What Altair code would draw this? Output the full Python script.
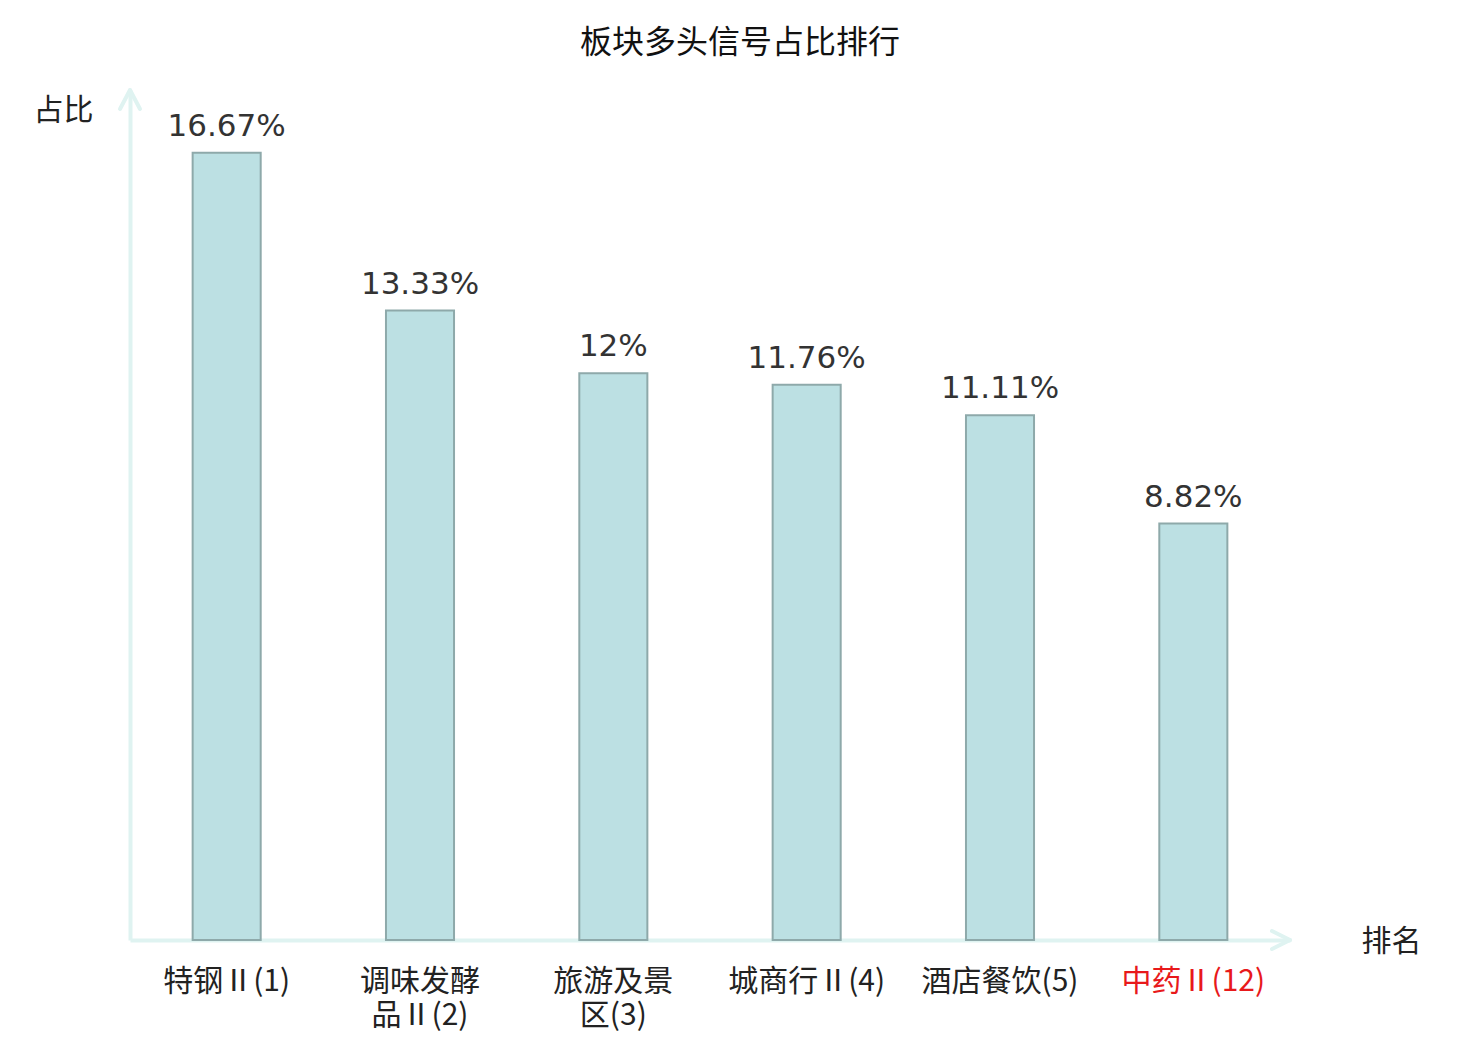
import altair as alt
import pandas as pd

categories = ["特钢Ⅱ(1)", "调味发酵品Ⅱ(2)", "旅游及景区(3)", "城商行Ⅱ(4)", "酒店餐饮(5)", "中药Ⅱ(12)"]
values = [16.67, 13.33, 12, 11.76, 11.11, 8.82]
title_text = "板块多头信号占比排行"
y_title = "占比"
x_title = "排名"

AXIS = "#dff3f1"
CJK = "Noto Sans CJK SC"
W, H = 1160, 850

df = pd.DataFrame({"cat": categories, "v": values})

x_enc = alt.X(
    "cat:N",
    sort=None,
    scale=alt.Scale(paddingInner=0.648, paddingOuter=0.324),
    axis=alt.Axis(
        title=x_title,
        titleX=1261,
        titleY=1,
        titleAlign="center",
        titleBaseline="middle",
        titleAngle=0,
        titleFontSize=30,
        titleFontWeight="normal",
        titleColor="#222222",
        titleFont=CJK,
        labelAngle=0,
        labelFont=CJK,
        labelFontSize=30,
        labelLineHeight=34,
        labelBaseline="top",
        labelPadding=26,
        labelExpr="length(datum.label) > 7 ? [substring(datum.label, 0, 4), substring(datum.label, 4)] : datum.label",
        labelColor=alt.ExprRef("indexof(datum.value, '(12)') >= 0 ? '#e8191b' : '#222222'"),
        ticks=False,
        domainColor=AXIS,
        domainWidth=4,
        labelLimit=400,
    ),
)
y_enc = alt.Y(
    "v:Q",
    scale=alt.Scale(domain=[0, 18], nice=False),
    axis=alt.Axis(
        title=y_title,
        titleAngle=0,
        titleX=-67,
        titleY=20,
        titleAlign="center",
        titleBaseline="middle",
        titleFontSize=30,
        titleFontWeight="normal",
        titleColor="#222222",
        titleFont=CJK,
        labels=False,
        ticks=False,
        grid=False,
        domainColor=AXIS,
        domainWidth=4,
    ),
)

base = alt.Chart(df)
bars = base.mark_bar(fill="#bce0e3", stroke="#8ea9aa", strokeWidth=2).encode(x=x_enc, y=y_enc)
labels = base.transform_calculate(lab="toString(datum.v) + '%'").mark_text(
    baseline="alphabetic", dy=-17, fontSize=31, font="DejaVu Sans", color="#333333"
).encode(x=alt.X("cat:N", sort=None), y="v:Q", text="lab:N")

one = pd.DataFrame({"t": [title_text]})
title = alt.Chart(one).mark_text(fontSize=32, font=CJK, color="#111111", baseline="middle", align="center").encode(
    text="t:N", x=alt.value(610), y=alt.value(-47)
)

def seg(x1, y1, x2, y2):
    return alt.Chart(one).mark_rule(color=AXIS, strokeWidth=4, strokeCap="round").encode(
        x=alt.value(x1), y=alt.value(y1), x2=alt.value(x2), y2=alt.value(y2)
    )

arrows = [
    seg(0, 0, -10, 19),
    seg(0, 0, 10, 19),
    seg(W, H, W - 18, H - 9),
    seg(W, H, W - 18, H + 9),
]

chart = alt.layer(*arrows, bars, labels, title).properties(
    width=W,
    height=H,
    autosize=alt.AutoSizeParams(type="none"),
    padding={"left": 122, "top": 82, "right": 170, "bottom": 92},
).configure(font=CJK, view=alt.ViewConfig(stroke="transparent", strokeWidth=0))

chart.save("out.html", embed_options={"renderer": "svg", "actions": False})
